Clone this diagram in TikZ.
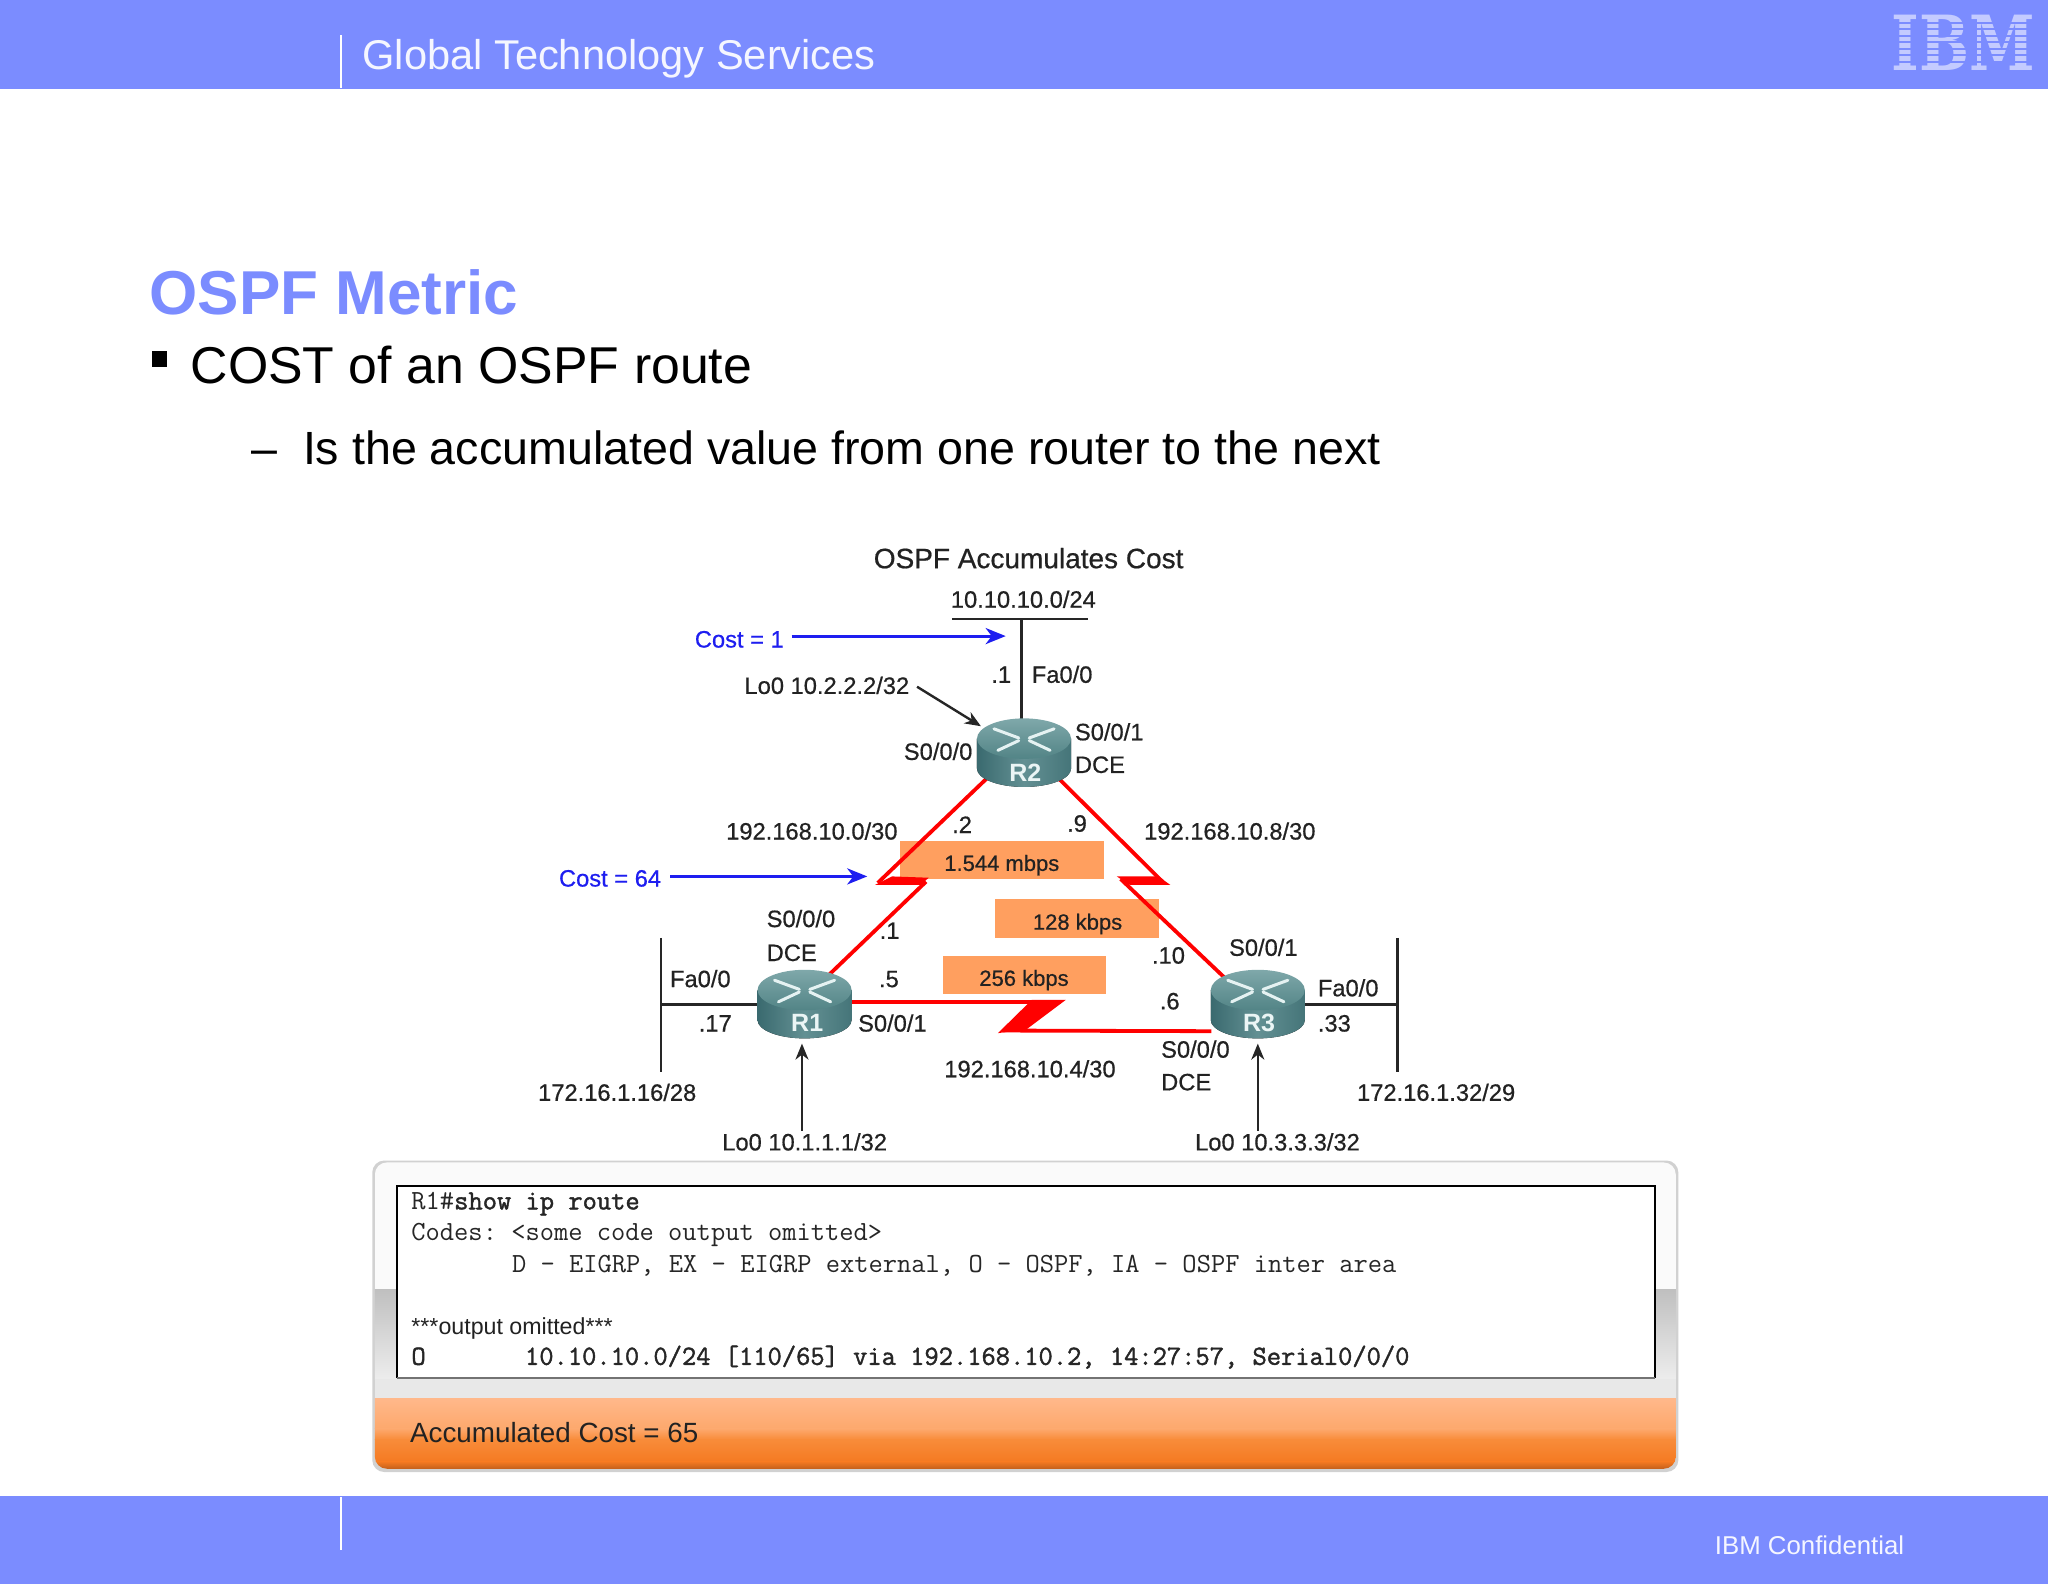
\documentclass[tikz,border=0pt]{standalone}
\usepackage{fontspec}
\setmainfont{Liberation Sans}
\newfontfamily\logofont{DejaVu Serif}
\newfontfamily\labfont{Liberation Sans}[FakeBold=0.6]
\newfontfamily\termreg{Latin Modern Mono}
\newfontfamily\termbold{Latin Modern Mono}[FakeBold=1.5]
\usetikzlibrary{arrows.meta,calc}
\definecolor{band}{HTML}{7B8CFF}
\definecolor{bluec}{HTML}{1E1EF0}
\definecolor{lblc}{HTML}{222222}
\definecolor{ora}{HTML}{FF9F5F}
\definecolor{oa}{HTML}{FFB88A}
\definecolor{ob}{HTML}{FDA86C}
\definecolor{oc}{HTML}{F88C3A}
\definecolor{od}{HTML}{F57A22}
\definecolor{oe}{HTML}{C4601C}
\definecolor{rta}{HTML}{7FA8AA}
\definecolor{rtb}{HTML}{528486}
\definecolor{rsa}{HTML}{3A6A6F}
\definecolor{rsb}{HTML}{639093}
\definecolor{rsc}{HTML}{457579}
\newcommand\myfs[1]{\fontsize{#1}{#1}\selectfont}
\tikzset{
  x=0.65306pt,y=-0.65306pt,
  lab/.style={anchor=base west,inner sep=0,outer sep=0,text=lblc,font=\labfont\myfs{11.85},yshift=-.5pt},
  plain/.style={anchor=base west,inner sep=0,outer sep=0,text=black},
  blab/.style={lab,text=bluec},
  rlab/.style={anchor=base,inner sep=0,outer sep=0,text=white!92!teal,font=\myfs{12.5}\bfseries},
  rate/.style={anchor=base,inner sep=0,outer sep=0,text=lblc,font=\labfont\myfs{11},yshift=-.5pt},
  ratebox/.style={fill=ora,draw=none},
  term/.style={anchor=base west,inner sep=0,outer sep=0,text=black!85,font=\termreg\frenchspacing\myfs{13.85},yshift=-.6pt},
  termb/.style={term,font=\termbold\frenchspacing\myfs{13.85}},
  wire/.style={draw=black!85,line width=1.3pt},
  serial/.style={draw=red,line width=1.9pt,line join=miter,miter limit=4},
  bolt/.style={fill=red,draw=none},
  note/.style={draw=bluec,line width=1.5pt,-{Stealth[length=10pt,width=8pt,inset=3pt]}},
  lo/.style={draw=black!85,line width=1.2pt,-{Stealth[length=8pt,width=6.5pt,inset=2.5pt]}},
  rnode/.style={inner sep=0,outer sep=0,minimum width=46.5pt,minimum height=34pt},
}
\newcommand\routerbody[1]{%
  \begin{scope}[shift={(#1)}]
    \fill[left color=rsa,right color=rsc,middle color=rsb]
      (-36,-11) -- (-36,12) arc[x radius=36,y radius=14,start angle=180,end angle=0] -- (36,-11) -- cycle;
    \shade[top color=rta,bottom color=rtb]
      (0,-11) ellipse[x radius=36,y radius=15.5];
    \begin{scope}[white!90!teal,line cap=round,line width=1.5pt]
      \draw (-23,-18.5) -- (-4,-11.5);
      \draw (23,-18.5) -- (4,-11.5);
      \draw (-20,-2) -- (-4,-9.5);
      \draw (20,-2) -- (4,-9.5);
    \end{scope}
  \end{scope}}
\begin{document}
\begin{tikzpicture}
\useasboundingbox (0,0) rectangle (1568,1212.75);
\fill[white] (0,0) rectangle (1568,1212.75);
% header and footer bands
\fill[band] (0,0) rectangle (1568,68);
\fill[band] (0,1145.5) rectangle (1568,1212.75);
\draw[white,line width=.7pt] (261,27) -- (261,67);
\draw[white,line width=.7pt] (261,1146) -- (261,1187);
\node[plain,text=white!92!band,font=\myfs{20.8}] (hdr) at (277.5,53) {Global Technology Services};
\node[plain,text=white!92!band,font=\myfs{12.9}] (conf) at (1313,1190) {IBM Confidential};
% logo
\node[anchor=center,inner sep=0,text=white!55!band,font=\logofont\bfseries\myfs{38},xscale=.78,transform shape] (logo) at (1503,33) {IBM};
\foreach \yy in {16.5,21.5,26.5,31.5,36.5,41.5,46.5} \fill[band] (1440,\yy) rectangle (1565,\yy+1.7);
% headings
\node[plain,text=band,font=\myfs{31}\bfseries] (ttl) at (114.5,241) {OSPF Metric};
\fill[black] (116,268.5) rectangle (128,281);
\node[plain,font=\myfs{25.9}] (b1) at (146,293.5) {COST of an OSPF route};
\node[plain,font=\myfs{23.3}] (dash) at (192.5,356) {–};
\node[plain,font=\myfs{23.3}] (b2) at (232,356) {Is the accumulated value from one router to the next};
% diagram caption
\node[lab,font=\labfont\myfs{14},yshift=.5pt] (cap) at (669,435) {OSPF Accumulates Cost};
% router anchors
\node[rnode] (R2) at (784,576.5) {};
\node[rnode] (R1) at (616,769) {};
\node[rnode] (R3) at (963,769) {};
% rate boxes
\fill[ratebox] (689,644) rectangle (845,673);
\fill[ratebox] (762,688) rectangle (887,718);
\fill[ratebox] (722,732) rectangle (847,761);
\node[rate] (r1) at (767,666) {1.544 mbps};
\node[rate] (r2) at (825,711) {128 kbps};
\node[rate] (r3) at (784,754) {256 kbps};
% coordinates of the serial links
\coordinate (a1) at (672,676);
\coordinate (a2) at (709,675);
\coordinate (c1) at (890,675);
\coordinate (c2) at (858,673);
\coordinate (d1) at (812,767);
\coordinate (d2) at (768,789);
% serial links
\fill[bolt] (670,677.5) -- (683,671) -- (711,672) -- (705,677.5) -- cycle;
\fill[bolt] (855,671) -- (887,671) -- (896,677.5) -- (865,677.5) -- cycle;
\fill[bolt] (816,765.5) -- (790,765.5) -- (764,791) -- (786,788) -- cycle;
\draw[serial] ($(R2.center)+(-28,19)$) -- (a1);
\draw[serial] (a2) -- ($(R1.center)+(18,-22)$);
\draw[serial] ($(R2.center)+(26,19)$) -- (c1);
\draw[serial] (c2) -- ($(R3.center)+(-26,-21)$);
\draw[serial] (R1.east|-0,767) -- (d1);
\draw[serial] (d2) -- (R3.west|-0,789.5);
% wires
\coordinate (t1) at (729,474);
\coordinate (t2) at (833,474);
\coordinate (t3) at (782,474);
\draw[wire] (t1) -- (t2);
\draw[wire] (t3) -- (t3|-R2.north);
\coordinate (l1) at (506,718);
\coordinate (l2) at (506,821);
\coordinate (l3) at (506,769);
\draw[wire] (l1) -- (l2);
\draw[wire] (l3) -- (R1.west);
\coordinate (e1) at (1070,718);
\coordinate (e2) at (1070,821);
\coordinate (e3) at (1070,769);
\draw[wire] (e1) -- (e2);
\draw[wire] (e3) -- (R3.east);
% routers
\routerbody{R2.center}
\routerbody{R1.center}
\routerbody{R3.center}
\node[rlab] (r2l) at (785,598) {R2};
\node[rlab] (r1l) at (618,790) {R1};
\node[rlab] (r3l) at (964,790) {R3};
% notes
\node[blab] (c1n) at (532,495) {Cost = 1};
\coordinate (c1e) at (770,487);
\draw[note] (c1n.east|-c1e) ++(6,0) -- (c1e);
\node[blab] (c64) at (428,678) {Cost = 64};
\coordinate (c64e) at (664,671);
\draw[note] (c64.east|-c64e) ++(7,0) -- (c64e);
% labels
\node[lab] (net0) at (728,464.5) {10.10.10.0/24};
\node[lab] (lo2) at (570,530.5) {Lo0 10.2.2.2/32};
\node[lab] (d1l) at (759,522) {.1};
\node[lab] (fa2) at (790,522) {Fa0/0};
\node[lab] (s1a) at (823,566) {S0/0/1};
\node[lab] (dce2) at (823,591) {DCE};
\node[lab] (s0a) at (692,581) {S0/0/0};
\node[lab] (net1) at (556,642) {192.168.10.0/30};
\node[lab] (d2l) at (729,637) {.2};
\node[lab] (d9l) at (817,636) {.9};
\node[lab] (net2) at (876,642) {192.168.10.8/30};
\node[lab] (s0b) at (587,709) {S0/0/0};
\node[lab] (dce1) at (587,735) {DCE};
\node[lab] (d1b) at (673.5,718) {.1};
\node[lab] (d5) at (673,755) {.5};
\node[lab] (d10) at (882,737) {.10};
\node[lab] (s1r3) at (941,731) {S0/0/1};
\node[lab] (d6) at (888,772) {.6};
\node[lab] (fa1) at (513,755) {Fa0/0};
\node[lab] (d17) at (535,789) {.17};
\node[lab] (s1r1) at (657,789) {S0/0/1};
\node[lab] (fa3) at (1009,762) {Fa0/0};
\node[lab] (d33) at (1009,789) {.33};
\node[lab] (net3) at (412,842) {172.16.1.16/28};
\node[lab] (net4) at (1039,842) {172.16.1.32/29};
\node[lab] (net5) at (723,824) {192.168.10.4/30};
\node[lab] (s0r3) at (889,809) {S0/0/0};
\node[lab] (dce3) at (889,834) {DCE};
\node[lab] (lo1) at (553,880) {Lo0 10.1.1.1/32};
\node[lab] (lo3) at (915,880) {Lo0 10.3.3.3/32};
% loopback arrows
\draw[lo] (lo2.east) ++(6,1) coordinate (lo2s) -- (751,556);
\coordinate (r1b) at (614,799);
\coordinate (r3b) at (963,799);
\draw[lo] (r1b|-lo1.north) ++(0,-2) -- (r1b);
\draw[lo] (r3b|-lo3.north) ++(0,-2) -- (r3b);
% panel
\fill[black!18,rounded corners=6] (285,888.5) rectangle (1285,1127);
\begin{scope}
  \clip[rounded corners=6] (287,890) rectangle (1283,1124.5);
  \fill[white!98!black] (287,890) rectangle (1283,987);
  \shade[top color=black!25,bottom color=black!7] (287,987) rectangle (1283,1056);
  \fill[black!9] (287,1056) rectangle (1283,1071);
  \shade[top color=oa,bottom color=ob] (287,1071) rectangle (1283,1094);
  \shade[top color=ob,bottom color=oc] (287,1094) rectangle (1283,1102);
  \shade[top color=oc,bottom color=od] (287,1102) rectangle (1283,1119);
  \shade[top color=od,bottom color=oe] (287,1119) rectangle (1283,1124.5);
\end{scope}
\node[inner sep=0,outer sep=0,anchor=north west,fill=white,minimum width=629pt,minimum height=96pt] (tbox) at (304,908) {};
\draw[black,line width=.9pt] (tbox.south west) -- (tbox.north west) -- (tbox.north east) -- (tbox.south east);
\draw[black!55,line width=1.1pt] (tbox.south west) -- (tbox.south east);
\node[term] (t01) at (315,925) {R1\#{\termbold show ip route}};
\node[term] (t02) at (315,949) {Codes: <some code output omitted>};
\node[term] (t03) at (392,973) {D - EIGRP, EX - EIGRP external, O - OSPF, IA - OSPF inter area};
\node[lab,font=\myfs{11.6}] (t04) at (315,1021) {***output omitted***};
\node[termb] (t05) at (315,1044) {O};
\node[termb] (t06) at (402,1044) {10.10.10.0/24 [110/65] via 192.168.10.2, 14:27:57, Serial0/0/0};
\node[lab,font=\myfs{13.9}] (acc) at (314,1104) {Accumulated Cost = 65};
\end{tikzpicture}
\end{document}
